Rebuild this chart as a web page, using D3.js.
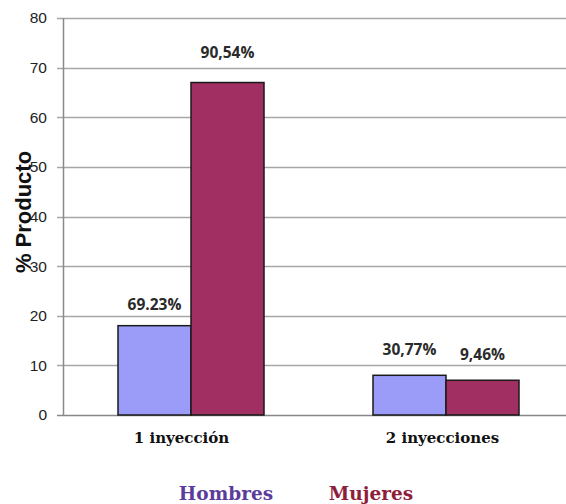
<!DOCTYPE html>
<html>
<head>
<meta charset="utf-8">
<script src="https://cdn.jsdelivr.net/npm/d3@7"></script>
<style>
  body { margin: 0; background: #fff; }
</style>
</head>
<body>
<div id="chart"></div>
<script>
"use strict";
const categories = ["1 inyección", "2 inyecciones"];
const seriesNames = ["Hombres", "Mujeres"];
const hombres = [18, 8];
const mujeres = [67, 7];
const labelsHombres = ["69.23%", "30,77%"];
const labelsMujeres = ["90,54%", "9,46%"];
const yTicks = [0, 10, 20, 30, 40, 50, 60, 70, 80];

const width = 566, height = 504;
const plot = {left: 63, top: 18, bottom: 415, right: 566};

const colors = {Hombres: "#9b9cf8", Mujeres: "#a12f61"};
const legendColors = {Hombres: "#5b3c9b", Mujeres: "#8f1d3c"};

const svg = d3.select("#chart")
    .append("svg")
    .attr("width", width)
    .attr("height", height);

const y = d3.scaleLinear().domain([0, 80]).range([plot.bottom, plot.top]);

const x0 = d3.scaleBand()
    .domain(categories)
    .range([plot.left, plot.left + 510])
    .padding(0);

// bar pair is 146px wide inside a 255px band
const x1 = d3.scaleBand()
    .domain(seriesNames)
    .range([55, 201])
    .padding(0);

// gridlines
svg.append("g")
    .selectAll("line")
    .data(yTicks)
    .join("line")
    .attr("x1", plot.left - 6)
    .attr("x2", plot.right)
    .attr("y1", (d) => Math.round(y(d)) + 0.5)
    .attr("y2", (d) => Math.round(y(d)) + 0.5)
    .attr("stroke", (d) => (d === 0 ? "#888" : "#a6a6a6"))
    .attr("stroke-width", 1.5);

// y axis line
svg.append("line")
    .attr("x1", plot.left + 0.5)
    .attr("x2", plot.left + 0.5)
    .attr("y1", plot.top)
    .attr("y2", plot.bottom)
    .attr("stroke", "#8a8a8a")
    .attr("stroke-width", 1.5);

// tick labels
svg.append("g")
    .selectAll("text")
    .data(yTicks)
    .join("text")
    .attr("x", plot.left - 16)
    .attr("y", (d) => y(d))
    .attr("dy", "0.35em")
    .attr("text-anchor", "end")
    .style("font", "15.5px 'Liberation Sans', Arial, sans-serif")
    .attr("fill", "#222")
    .text((d) => d);

// bars
const rows = categories.map((c, i) => ({
    cat: c,
    values: [
        {key: "Hombres", value: hombres[i], label: labelsHombres[i]},
        {key: "Mujeres", value: mujeres[i], label: labelsMujeres[i]}
    ]
}));

const groups = svg.append("g")
    .selectAll("g")
    .data(rows)
    .join("g")
    .attr("transform", (d) => `translate(${x0(d.cat)},0)`);

groups.selectAll("rect")
    .data((d) => d.values)
    .join("rect")
    .attr("x", (d) => x1(d.key))
    .attr("y", (d) => y(d.value))
    .attr("width", x1.bandwidth())
    .attr("height", (d) => y(0) - y(d.value))
    .attr("fill", (d) => colors[d.key])
    .attr("stroke", "#1a1a1a")
    .attr("stroke-width", 1.5);

// value labels
groups.selectAll("text.val")
    .data((d) => d.values)
    .join("text")
    .attr("class", "val")
    .attr("x", (d) => x1(d.key) + x1.bandwidth() / 2)
    .attr("y", (d) => {
        if (d.value > 50) return y(d.value) - 25;
        if (d.value > 10) return y(d.value) - 16;
        return y(d.value) - 20;
    })
    .attr("text-anchor", "middle")
    .style("font", "bold 15.5px 'Open Sans', sans-serif")
    .attr("fill", "#2a2a2a")
    .text((d) => d.label);

// category labels
const catOffset = [-9, -3];
svg.append("g")
    .selectAll("text")
    .data(categories)
    .join("text")
    .attr("x", (d, i) => x0(d) + x0.bandwidth() / 2 + catOffset[i])
    .attr("y", 443)
    .attr("text-anchor", "middle")
    .style("font", "bold 15px 'DejaVu Serif', serif")
    .attr("fill", "#111")
    .text((d) => d);

// y axis title
svg.append("text")
    .attr("transform", "translate(31,212) rotate(-90)")
    .attr("text-anchor", "middle")
    .style("font", "bold 22px 'Liberation Sans', Arial, sans-serif")
    .attr("fill", "#111")
    .text("% Producto");

// legend
const legendX = [226, 371];
svg.append("g")
    .selectAll("text")
    .data(seriesNames)
    .join("text")
    .attr("x", (d, i) => legendX[i])
    .attr("y", 500)
    .attr("text-anchor", "middle")
    .style("font", "bold 18.5px 'DejaVu Serif', serif")
    .attr("fill", (d) => legendColors[d])
    .text((d) => d);
</script>
</body>
</html>
